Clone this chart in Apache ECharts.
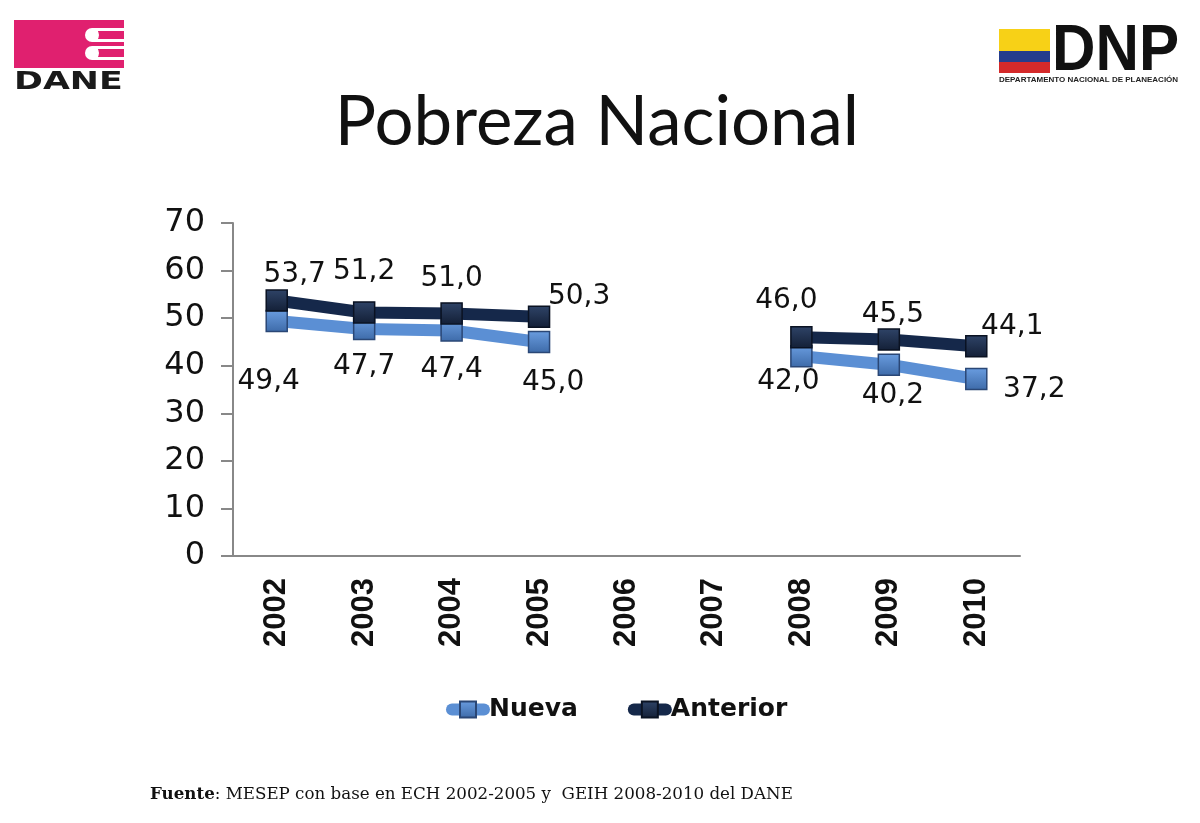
<!DOCTYPE html>
<html>
<head>
<meta charset="utf-8">
<script src="https://cdn.jsdelivr.net/npm/echarts@6/dist/echarts.min.js"></script>
<style>
  html, body { margin: 0; padding: 0; background: #fff; }
  #chart { width: 1200px; height: 823px; }
</style>
</head>
<body>
<div id="chart"></div>
<script>
var years = ['2002', '2003', '2004', '2005', '2006', '2007', '2008', '2009', '2010'];
var nueva = [49.4, 47.7, 47.4, 45.0, null, null, 42.0, 40.2, 37.2];
var anterior = [53.7, 51.2, 51.0, 50.3, null, null, 46.0, 45.5, 44.1];
var yTicks = [0, 10, 20, 30, 40, 50, 60, 70];

// where each value label sits, relative to its point
var nuevaLabelOffset = [[-8, 21], [0, -2], [0, 0], [14, 2], null, null, [-13, -14], [4, -8], [58, -29]];
var anteriorLabelOffset = [[18, 11], [0, -3], [0, 3], [40, 17], null, null, [-15, 1], [4, 12], [36, 18]];

var colNueva = '#5b8fd4';
var colAnterior = '#15284a';

function fmt(v) {
    return v.toFixed(1).replace('.', ',');
}

function buildData(values, offsets, pos) {
    return values.map(function (v, i) {
        if (v === null) return null;
        return { value: v, label: { position: pos, offset: offsets[i] } };
    });
}

function vGrad(top, bottom) {
    return new echarts.graphic.LinearGradient(0, 0, 0, 1, [
        { offset: 0, color: top },
        { offset: 1, color: bottom }
    ]);
}

var myChart = echarts.init(document.getElementById('chart'));
var option = {
    backgroundColor: '#ffffff',
    animation: false,
    title: {
        text: 'Pobreza Nacional',
        left: 592,
        top: 83,
        textAlign: 'center',
        textStyle: { fontFamily: 'Lato', fontWeight: 'normal', fontSize: 69, color: '#111' }
    },
    legend: {
        data: ['Nueva', 'Anterior'],
        left: 441,
        top: 692,
        itemWidth: 32,
        itemHeight: 20,
        itemGap: 50,
        lineStyle: { width: 12, cap: 'round' },
        textStyle: { fontFamily: 'DejaVu Sans', fontWeight: 'bold', fontSize: 25, color: '#111', padding: [0, 0, 0, 0] }
    },
    grid: { left: 233, right: 180, top: 223, bottom: 267, containLabel: false },
    xAxis: {
        type: 'category',
        data: years,
        boundaryGap: true,
        axisLine: { lineStyle: { color: '#888', width: 2 } },
        axisTick: { length: 10, lineStyle: { color: '#888', width: 2 } },
        axisLabel: {
            rotate: 90, interval: 0, margin: 22,
            fontFamily: 'Liberation Sans', fontWeight: 'bold', fontSize: 31, color: '#111'
        }
    },
    yAxis: {
        type: 'value',
        min: yTicks[0],
        max: yTicks[yTicks.length - 1],
        interval: 10,
        splitLine: { show: false },
        axisLine: { show: true, lineStyle: { color: '#888', width: 2 } },
        axisTick: { show: true, length: 12, lineStyle: { color: '#888', width: 2 } },
        axisLabel: { margin: 28, fontFamily: 'DejaVu Sans', fontSize: 32, color: '#111' }
    },
    series: [
        {
            name: 'Nueva',
            type: 'line',
            data: buildData(nueva, nuevaLabelOffset, 'bottom'),
            connectNulls: false,
            symbol: 'rect',
            symbolSize: 21,
            lineStyle: { color: colNueva, width: 12 },
            itemStyle: { color: vGrad('#6a9de0', '#3d6aa8'), borderColor: '#2a4776', borderWidth: 1.5 },
            label: {
                show: true, distance: 14,
                fontFamily: 'DejaVu Sans', fontSize: 28, color: '#111',
                formatter: function (p) { return fmt(p.value); }
            },
            z: 2
        },
        {
            name: 'Anterior',
            type: 'line',
            data: buildData(anterior, anteriorLabelOffset, 'top'),
            connectNulls: false,
            symbol: 'rect',
            symbolSize: 21,
            lineStyle: { color: colAnterior, width: 12 },
            itemStyle: { color: vGrad('#2f4468', '#131f36'), borderColor: '#0a1222', borderWidth: 1.5 },
            label: {
                show: true, distance: 12,
                fontFamily: 'DejaVu Sans', fontSize: 28, color: '#111',
                formatter: function (p) { return fmt(p.value); }
            },
            z: 3
        }
    ],
    graphic: [
        // DANE logo
        { type: 'rect', shape: { x: 14, y: 20, width: 110, height: 48 }, style: { fill: '#e0206f' } },
        { type: 'rect', shape: { x: 92, y: 28, width: 32, height: 14 }, style: { fill: '#fff' } },
        { type: 'rect', shape: { x: 92, y: 46, width: 32, height: 14 }, style: { fill: '#fff' } },
        { type: 'rect', shape: { x: 98, y: 31, width: 26, height: 8 }, style: { fill: '#e0206f' } },
        { type: 'rect', shape: { x: 98, y: 49, width: 26, height: 8 }, style: { fill: '#e0206f' } },
        { type: 'circle', shape: { cx: 92, cy: 35, r: 7 }, style: { fill: '#fff' } },
        { type: 'circle', shape: { cx: 92, cy: 53, r: 7 }, style: { fill: '#fff' } },
        { type: 'text', x: 14, y: 71, scaleX: 1.45, style: { text: 'DANE', fontFamily: 'DejaVu Sans', fontWeight: 'bold', fontSize: 24, fill: '#1a1a1a' } },
        // DNP logo
        { type: 'rect', shape: { x: 999, y: 29, width: 51, height: 22 }, style: { fill: '#f7d117' } },
        { type: 'rect', shape: { x: 999, y: 51, width: 51, height: 11 }, style: { fill: '#253d8c' } },
        { type: 'rect', shape: { x: 999, y: 62, width: 51, height: 11 }, style: { fill: '#d42a2a' } },
        { type: 'text', x: 1052, y: 20, scaleX: 0.94, style: { text: 'DNP', fontFamily: 'Liberation Sans', fontWeight: 'bold', fontSize: 64, fill: '#111' } },
        { type: 'text', left: 999, top: 76, style: { text: 'DEPARTAMENTO NACIONAL DE PLANEACIÓN', fontFamily: 'Liberation Sans', fontWeight: 'bold', fontSize: 8, fill: '#222' } },
        // source note
        {
            type: 'text', left: 150, top: 786,
            style: {
                text: '{b|Fuente}: MESEP con base en ECH 2002-2005 y  GEIH 2008-2010 del DANE',
                fontFamily: 'DejaVu Serif', fontSize: 16.7, fill: '#111',
                rich: { b: { fontFamily: 'DejaVu Serif', fontWeight: 'bold', fontSize: 16.7, fill: '#111' } }
            }
        }
    ]
};
myChart.setOption(option);
</script>
</body>
</html>
